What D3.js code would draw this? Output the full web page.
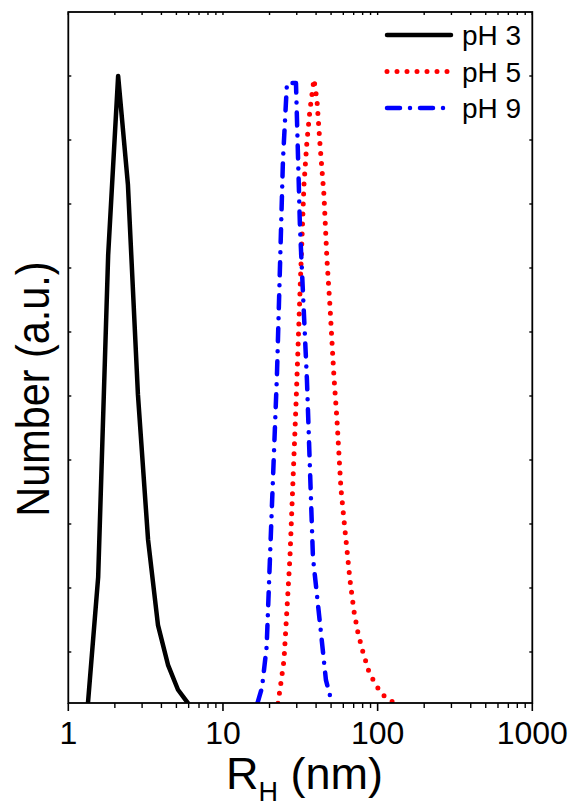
<!DOCTYPE html>
<html>
<head>
<meta charset="utf-8">
<script src="https://cdn.jsdelivr.net/npm/d3@7"></script>
<style>
  body { margin: 0; background: #fff; }
  text { font-family: "Liberation Sans", Arial, sans-serif; fill: #000; }
</style>
</head>
<body>
<svg id="chart" width="572" height="809"></svg>
<script>
// pH 3 (black, solid)
var ph3R = [1.34, 1.56, 1.81, 2.10, 2.43, 2.82, 3.28, 3.80, 4.41, 5.12, 5.94];
var ph3N = [0.02, 0.217, 0.720, 1.000, 0.830, 0.502, 0.275, 0.142, 0.080, 0.041, 0.02];

// pH 5 (red, dotted)
var ph5R = [22.68, 23.36, 24.80, 27.11, 29.65, 31.46, 33.39, 34.91, 36.51, 38.74,
            40.51, 42.37, 44.97, 47.02, 49.17, 52.19, 54.58, 57.92, 61.47, 66.22,
            70.29, 74.59, 80.35, 87.86, 97.50, 108.2, 121.9, 139.4];
var ph5N = [0.02, 0.041, 0.087, 0.248, 0.486, 0.661, 0.830, 0.898, 0.947, 0.995,
            0.963, 0.894, 0.814, 0.713, 0.641, 0.530, 0.463, 0.355, 0.291, 0.213,
            0.164, 0.130, 0.100, 0.069, 0.048, 0.033, 0.023, 0.02];

// pH 9 (blue, dash-dot)
var ph9R = [16.71, 17.87, 19.16, 20.74, 22.34, 24.43, 25.93, 29.65, 31.46, 34.91,
            38.17, 42.37, 46.33, 50.66];
var ph9N = [0.02, 0.044, 0.108, 0.330, 0.533, 0.869, 0.989, 0.989, 0.764, 0.525,
            0.248, 0.145, 0.056, 0.02];

var xTickLabels = [1, 10, 100, 1000];
var yTicks = [0.1, 0.2, 0.3, 0.4, 0.5, 0.6, 0.7, 0.8, 0.9, 1.0];
var seriesNames = ["pH 3", "pH 5", "pH 9"];

function main() {
    var svg = d3.select("#chart");
    var left = 68.3, right = 532.3, top = 12, bottom = 703;

    var x = d3.scaleLog().domain([1, 1000]).range([left, right]);
    var y = d3.scaleLinear().domain([0.0203, 1.1]).range([bottom, top]);

    // minor ticks 2..9 in each decade
    var minor = [];
    [1, 10, 100].forEach(function(d) {
        for (var k = 2; k < 10; k++) minor.push(d * k);
    });

    // bottom axis, ticks outward
    var gb = svg.append("g").attr("transform", "translate(0," + bottom + ")");
    gb.selectAll(".maj").data(xTickLabels).enter().append("line")
        .attr("x1", d => x(d)).attr("x2", d => x(d))
        .attr("y1", 0).attr("y2", 8)
        .attr("stroke", "#000").attr("stroke-width", 1.6);
    gb.selectAll(".min").data(minor).enter().append("line")
        .attr("x1", d => x(d)).attr("x2", d => x(d))
        .attr("y1", 0).attr("y2", 5)
        .attr("stroke", "#000").attr("stroke-width", 1.4);
    gb.selectAll("text").data(xTickLabels).enter().append("text")
        .attr("x", d => x(d)).attr("y", 41)
        .attr("text-anchor", "middle")
        .style("font-size", "32px")
        .text(d => d);

    // top axis, ticks inward
    var gt = svg.append("g").attr("transform", "translate(0," + top + ")");
    gt.selectAll("line").data(minor.concat(xTickLabels)).enter().append("line")
        .attr("x1", d => x(d)).attr("x2", d => x(d))
        .attr("y1", 0).attr("y2", 3)
        .attr("stroke", "#000").attr("stroke-width", 1.4);

    // left and right ticks, inward, no labels
    [left, right].forEach(function(px, i) {
        var dir = i === 0 ? 1 : -1;
        svg.append("g").selectAll("line").data(yTicks).enter().append("line")
            .attr("x1", px).attr("x2", px + dir * 3)
            .attr("y1", d => y(d)).attr("y2", d => y(d))
            .attr("stroke", "#000").attr("stroke-width", 1.4);
    });

    svg.append("defs").append("clipPath").attr("id", "clip")
        .append("rect").attr("x", left).attr("y", top)
        .attr("width", right - left).attr("height", bottom - top);

    var line = d3.line()
        .x(d => x(d[0]))
        .y(d => y(d[1]));

    var styles = [
        { color: "#000000", width: 4.5, dash: null, cap: "round" },
        { color: "#ff0000", width: 5, dash: "0 10", cap: "round" },
        { color: "#0000ff", width: 4.5, dash: "13 10 0 10", cap: "round" }
    ];
    var series = [
        d3.zip(ph3R, ph3N),
        d3.zip(ph5R, ph5N),
        d3.zip(ph9R, ph9N)
    ];

    var plot = svg.append("g").attr("clip-path", "url(#clip)");
    series.forEach(function(s, i) {
        plot.append("path")
            .datum(s)
            .attr("fill", "none")
            .attr("stroke", styles[i].color)
            .attr("stroke-width", styles[i].width)
            .attr("stroke-linecap", styles[i].cap)
            .attr("stroke-linejoin", "round")
            .attr("stroke-dasharray", styles[i].dash)
            .attr("d", line);
    });

    // frame
    svg.append("rect")
        .attr("x", left).attr("y", top)
        .attr("width", right - left).attr("height", bottom - top)
        .attr("fill", "none").attr("stroke", "#000").attr("stroke-width", 1.8);

    // legend
    var lg = svg.append("g");
    seriesNames.forEach(function(name, i) {
        var ly = 35 + i * 36.5;
        lg.append("line")
            .attr("x1", 387).attr("x2", 451)
            .attr("y1", ly).attr("y2", ly)
            .attr("stroke", styles[i].color)
            .attr("stroke-width", styles[i].width)
            .attr("stroke-linecap", styles[i].cap)
            .attr("stroke-dasharray", styles[i].dash);
        lg.append("text")
            .attr("x", 462).attr("y", ly + 10)
            .style("font-size", "28px")
            .text(name);
    });

    // axis titles
    var xt = svg.append("text")
        .attr("x", 226).attr("y", 789)
        .style("font-size", "45px");
    xt.append("tspan").text("R");
    xt.append("tspan").attr("dy", 12).style("font-size", "27px").text("H");
    xt.append("tspan").attr("dy", -12).text(" (nm)");

    svg.append("text")
        .attr("transform", "translate(49,389) rotate(-90) scale(0.9,1)")
        .attr("text-anchor", "middle")
        .style("font-size", "46px")
        .text("Number (a.u.)");
}
main();
</script>
</body>
</html>
